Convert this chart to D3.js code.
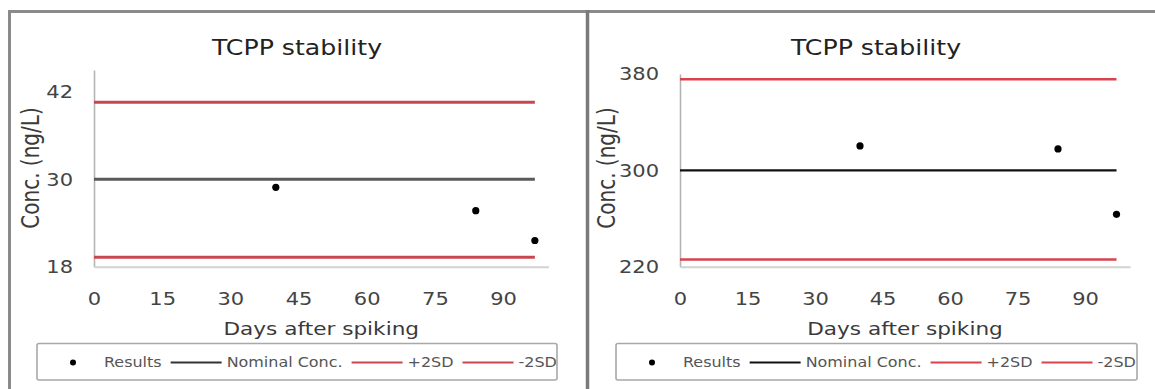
<!DOCTYPE html>
<html>
<head>
<meta charset="utf-8">
<script src="https://cdn.jsdelivr.net/npm/d3@7"></script>
<style>
  body { margin: 0; background: #fff; }
  svg { display: block; font-family: "DejaVu Sans", Verdana, sans-serif; }
</style>
</head>
<body>
<div id="chart"></div>
<script>
// Sample days and measured concentrations
const days = [40, 84, 97]
const lowResults = [28.9, 25.7, 21.6]
const highResults = [320.2, 317.7, 263.5]

// Reference lines: nominal, +2SD, -2SD
const lowLimits = [30, 40.6, 19.3]
const highLimits = [300, 375.6, 226.0]

const xTicks = [0, 15, 30, 45, 60, 75, 90]
const lowYTicks = [18, 30, 42]
const highYTicks = [220, 300, 380]

const legendLabels = ["Results", "Nominal Conc.", "+2SD", "-2SD"]

let width = 1155
let height = 389
let SX = 1.2 // the original picture is stretched sideways

let svg = d3.select("#chart").append("svg")
    .attr("width", width)
    .attr("height", height)

// Panels, left and right
let panels = [
  { ox: 9, results: lowResults, limits: lowLimits, yTicks: lowYTicks, yDomain: [18, 45],
    xRange: [94, 548.5], yRange: [266.7, 70.1], titleX: 297, yTitleX: 30, legend: [37, 557],
    nomColor: "#5a5a5a", nomWidth: 3, redColor: "#c8474f", redWidth: 3, legendNom: "#333" },
  { ox: 587, results: highResults, limits: highLimits, yTicks: highYTicks, yDomain: [220, 380],
    xRange: [680, 1130], yRange: [266.7, 73.9], titleX: 876, yTitleX: 606, legend: [616, 1137],
    nomColor: "#111", nomWidth: 2.2, redColor: "#d9434d", redWidth: 2.6, legendNom: "#111" }
]

panels.forEach(drawPanel)

// Frame around the panels
svg.append("line").attr("x1", 8).attr("x2", width).attr("y1", 11.5).attr("y2", 11.5)
    .style("stroke", "#8a8a8a").style("stroke-width", 3)
svg.append("line").attr("x1", 9.5).attr("x2", 9.5).attr("y1", 10).attr("y2", height)
    .style("stroke", "#8a8a8a").style("stroke-width", 3)
svg.append("line").attr("x1", 587.5).attr("x2", 587.5).attr("y1", 10).attr("y2", height)
    .style("stroke", "#7a7a7a").style("stroke-width", 3.5)

function stretched(sel, x, y) {
  return sel.attr("transform", "translate(" + x + "," + y + ") scale(" + SX + ",1)")
}

function drawPanel(p) {
  let g = svg.append("g")

  let x = d3.scaleLinear().domain([0, 100]).range(p.xRange)
  let y = d3.scaleLinear().domain(p.yDomain).range(p.yRange)

  // Title
  stretched(g.append("text"), p.titleX, 55)
      .attr("text-anchor", "middle")
      .style("font-size", "21px")
      .style("fill", "#222")
      .text("TCPP stability")

  // Axes
  let yAxis = g.append("g")
      .attr("transform", "translate(" + p.xRange[0] + ",0)")
      .call(d3.axisLeft(y).tickValues(p.yTicks).tickSize(0).tickSizeOuter(0))
  yAxis.select(".domain").style("stroke", "#b4b4b4").style("stroke-width", 1.6)
  yAxis.selectAll("text")
      .attr("x", 0).attr("dy", null)
      .attr("dominant-baseline", "central")
      .attr("transform", "translate(-21,0) scale(" + SX + ",1)")
      .style("font-size", "17.5px")
      .style("font-family", "DejaVu Sans, sans-serif")
      .style("fill", "#444")

  let xAxis = g.append("g")
      .attr("transform", "translate(0," + p.yRange[0] + ")")
      .call(d3.axisBottom(x).tickValues(xTicks).tickSize(0).tickSizeOuter(0))
  xAxis.select(".domain").style("stroke", "#d2d2d2").style("stroke-width", 2)
  xAxis.selectAll("text")
      .attr("y", 0).attr("dy", null)
      .attr("transform", "translate(0,38) scale(" + SX + ",1)")
      .style("font-size", "17.5px")
      .style("font-family", "DejaVu Sans, sans-serif")
      .style("fill", "#444")

  // Axis titles
  stretched(g.append("text"), (p.xRange[0] + p.xRange[1]) / 2, 335)
      .attr("text-anchor", "middle")
      .style("font-size", "18px")
      .style("fill", "#3a3a3a")
      .text("Days after spiking")

  g.append("text")
      .attr("transform", "translate(" + p.yTitleX + ",168) scale(" + SX + ",1) rotate(-90)")
      .attr("text-anchor", "middle")
      .attr("dominant-baseline", "central")
      .style("font-size", "20px")
      .style("fill", "#3a3a3a")
      .text("Conc. (ng/L)")

  // Reference lines, from day 0 to the last sample
  let span = [0, d3.max(days)]
  let refs = [
    { v: p.limits[1], color: p.redColor, w: p.redWidth },
    { v: p.limits[2], color: p.redColor, w: p.redWidth },
    { v: p.limits[0], color: p.nomColor, w: p.nomWidth }
  ]
  let line = d3.line().x((d) => x(d[0])).y((d) => y(d[1]))
  refs.forEach((r) => {
    g.append("path")
        .attr("d", line(span.map((d) => [d, r.v])))
        .style("fill", "none")
        .style("stroke", r.color)
        .style("stroke-width", r.w)
  })

  // Results
  g.selectAll("circle.pt")
      .data(days.map((d, i) => [d, p.results[i]]))
      .enter().append("circle")
      .attr("class", "pt")
      .attr("cx", (d) => x(d[0]))
      .attr("cy", (d) => y(d[1]))
      .attr("r", 3.6)
      .style("fill", "#000")

  // Legend
  let lg = g.append("g")
  let ly = 362.5
  let lx = p.legend[0] + 36
  lg.append("circle").attr("cx", lx).attr("cy", ly).attr("r", 3).style("fill", "#000")
  lx += 31
  let colors = [null, p.legendNom, p.redColor, p.redColor]
  legendLabels.forEach((label, i) => {
    if (i > 0) {
      lg.append("line")
          .attr("x1", lx).attr("x2", lx + 51).attr("y1", ly).attr("y2", ly)
          .style("stroke", colors[i]).style("stroke-width", 2)
      lx += 56
    }
    let t = stretched(lg.append("text"), lx, ly + 4.8)
        .style("font-size", "13.3px")
        .style("fill", "#555")
        .text(label)
    lx += t.node().getComputedTextLength() * SX + 9
  })

  g.append("rect")
      .attr("x", p.legend[0]).attr("y", 343.5)
      .attr("width", p.legend[1] - p.legend[0]).attr("height", 36.5)
      .attr("rx", 2)
      .style("fill", "none")
      .style("stroke", "#a8a8a8")
      .style("stroke-width", 1.6)
}
</script>
</body>
</html>
